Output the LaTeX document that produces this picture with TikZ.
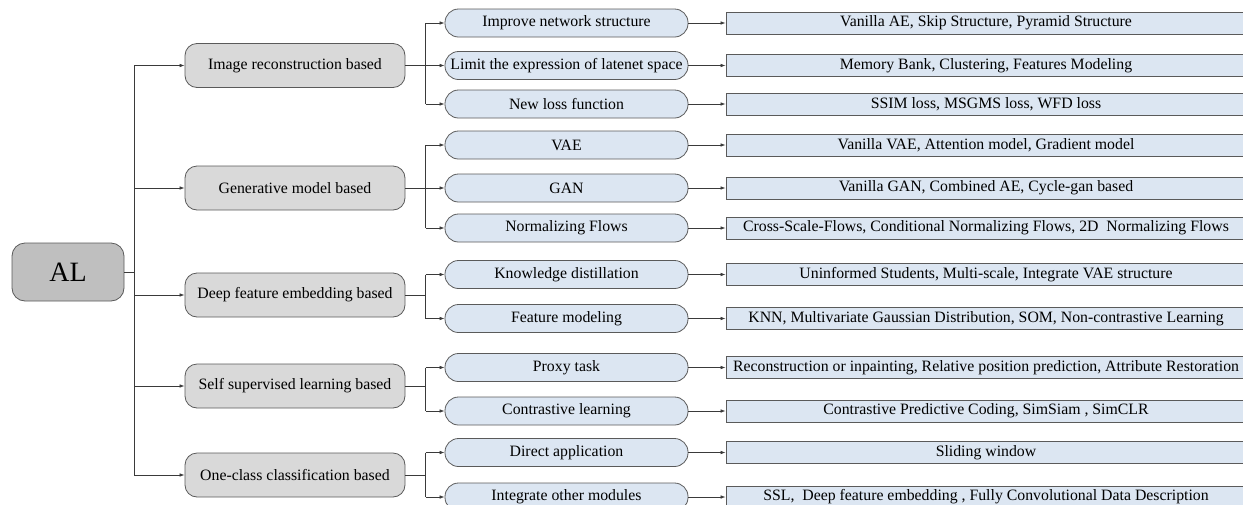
\documentclass[tikz,border=0pt]{standalone}
\usepackage{fontspec}
\setmainfont{Liberation Serif}
\usetikzlibrary{arrows.meta}
\definecolor{edgegray}{HTML}{5A5A5A}
\definecolor{rootfill}{HTML}{BFBFBF}
\definecolor{catfill}{HTML}{D9D9D9}
\definecolor{subfill}{HTML}{DCE6F2}
\definecolor{linkgray}{HTML}{3A3A3A}

\begin{document}
\begin{tikzpicture}[x=1pt,y=-1pt,
  box/.style={draw=edgegray, line width=0.8pt, inner sep=0pt, text=black,
    font=\fontsize{15.8}{18}\selectfont},
  rootbox/.style={box, fill=rootfill, rounded corners=13pt,
    minimum width=112pt, minimum height=58pt, font=\fontsize{28}{30}\selectfont},
  catbox/.style={box, fill=catfill, rounded corners=12pt,
    minimum width=220pt, minimum height=44pt},
  subbox/.style={box, fill=subfill, rounded corners=13.5pt,
    minimum width=243pt, minimum height=28pt},
  leafbox/.style={box, fill=subfill, minimum width=520pt, minimum height=22pt},
  link/.style={draw=linkgray, line width=0.7pt},
  arr/.style={link, -{Latex[length=5pt,width=3.6pt]}}
]
\useasboundingbox (0,0) rectangle (1243,504);
\clip (0,0) rectangle (1243,504);

% root
\node[rootbox] (root) at (68,272) {AL};

% categories
\node[catbox] (c1) at (295,65.5) {Image reconstruction based};
\node[catbox] (c2) at (295,188)  {Generative model based};
\node[catbox] (c3) at (295,295)  {Deep feature embedding based};
\node[catbox] (c4) at (295,386)  {Self supervised learning based};
\node[catbox] (c5) at (295,475)  {One-class classification based};

% sub-categories
\node[subbox] (s11) at (566.5,23)   {Improve network structure};
\node[subbox] (s12) at (566.5,65.5) {Limit the expression of latenet space};
\node[subbox] (s13) at (566.5,104)  {New loss function};
\node[subbox] (s21) at (566.5,145)  {VAE};
\node[subbox] (s22) at (566.5,188)  {GAN};
\node[subbox] (s23) at (566.5,228)  {Normalizing Flows};
\node[subbox] (s31) at (566.5,274.5) {Knowledge distillation};
\node[subbox] (s32) at (566.5,318.5) {Feature modeling};
\node[subbox] (s41) at (566.5,367.5) {Proxy task};
\node[subbox] (s42) at (566.5,411)  {Contrastive learning};
\node[subbox] (s51) at (566.5,452.5) {Direct application};
\node[subbox] (s52) at (566.5,497)  {Integrate other modules};

% methods
\node[leafbox] (l11) at (986,23)    {Vanilla AE, Skip Structure, Pyramid Structure};
\node[leafbox] (l12) at (986,65.5)  {Memory Bank, Clustering, Features Modeling};
\node[leafbox] (l13) at (986,104)   {SSIM loss, MSGMS loss, WFD loss};
\node[leafbox] (l21) at (986,145)   {Vanilla VAE, Attention model, Gradient model};
\node[leafbox] (l22) at (986,188)   {Vanilla GAN, Combined AE, Cycle-gan based};
\node[leafbox] (l23) at (986,228)   {Cross-Scale-Flows, Conditional Normalizing Flows, 2D\ \ Normalizing Flows};
\node[leafbox] (l31) at (986,274.5) {Uninformed Students, Multi-scale, Integrate VAE structure};
\node[leafbox] (l32) at (986,318.5) {KNN, Multivariate Gaussian Distribution, SOM, Non-contrastive Learning};
\node[leafbox] (l41) at (986,367.5) {Reconstruction or inpainting, Relative position prediction, Attribute Restoration};
\node[leafbox] (l42) at (986,411)   {Contrastive Predictive Coding, SimSiam , SimCLR};
\node[leafbox] (l51) at (986,452.5) {Sliding window};
\node[leafbox] (l52) at (986,497)   {SSL,\ \ Deep feature embedding , Fully Convolutional Data Description};

% trunk from the root to the categories
\coordinate (trunk) at (134,0);
\draw[link] (c1.west -| trunk) -- (c5.west -| trunk);
\draw[link] (root.east) -- (root.east -| trunk);
\foreach \c in {c1,c2,c3,c4,c5}
  \draw[arr] (\c.west -| trunk) -- (\c.west);

% branches from the categories to the sub-categories
\coordinate (junc) at (425.5,0);
\foreach \c/\first/\last in {c1/s11/s13, c2/s21/s23, c3/s31/s32, c4/s41/s42, c5/s51/s52}{
  \draw[link] (\c.east) -- (\c.east -| junc);
  \draw[link] (\first.west -| junc) -- (\last.west -| junc);
}
\foreach \s in {s11,s12,s13,s21,s22,s23,s31,s32,s41,s42,s51,s52}
  \draw[arr] (\s.west -| junc) -- (\s.west);

% sub-categories to methods
\foreach \s/\l in {s11/l11,s12/l12,s13/l13,s21/l21,s22/l22,s23/l23,
                   s31/l31,s32/l32,s41/l41,s42/l42,s51/l51,s52/l52}
  \draw[arr] (\s.east) -- (\l.west);
\end{tikzpicture}
\end{document}
